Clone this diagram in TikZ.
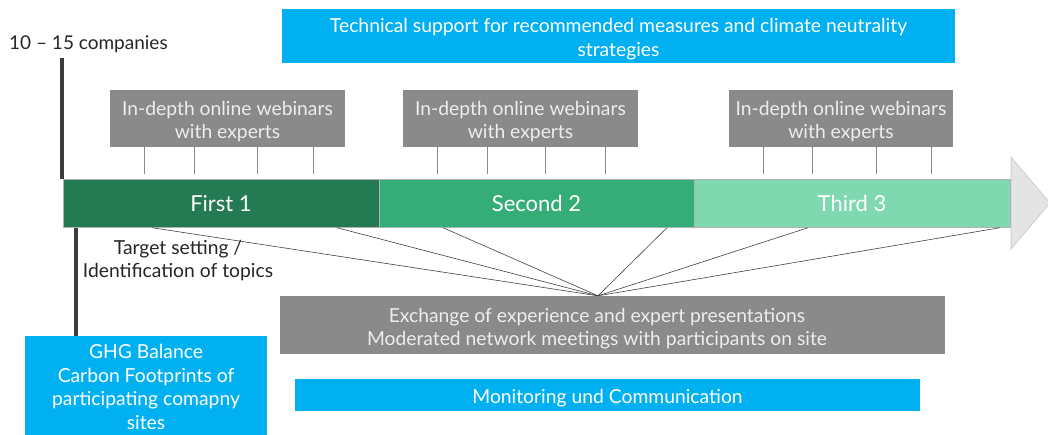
\documentclass[tikz,border=0pt]{standalone}
\usepackage{fontspec}
\setmainfont{Lato}
\usepackage{xcolor}
\usepackage{tikz}
\usetikzlibrary{positioning}

\definecolor{boxblue}{RGB}{0,176,240}
\definecolor{boxgray}{RGB}{138,138,138}
\definecolor{phasedark}{RGB}{36,122,82}
\definecolor{phasemid}{RGB}{52,173,120}
\definecolor{phaselight}{RGB}{128,216,176}
\definecolor{headfill}{RGB}{228,228,228}
\definecolor{headline}{RGB}{200,200,200}
\definecolor{inkdark}{RGB}{38,38,38}

\begin{document}
\begin{tikzpicture}[x=1pt, y=-1pt,
  every box/.style={inner sep=0pt},
  blue box/.style={every box, fill=boxblue},
  gray box/.style={every box, fill=boxgray},
  box text/.style={inner sep=0pt, align=center, text=white,
    font=\fontsize{19.3}{23.5}\selectfont},
  gray text/.style={box text, text=white!93!black},
  phase/.style={inner sep=0pt, minimum height=48, text=white,
    font=\fontsize{22}{26}\selectfont, draw=white!70!black, line width=0.4pt},
  stem/.style={line width=3.5pt, inkdark!90},
  tick/.style={line width=0.5pt, boxgray},
  fan/.style={line width=0.6pt, black!75}]

\useasboundingbox (0,0) rectangle (1048,434);

% arrow head behind the phase bar
\filldraw[fill=headfill, draw=headline, line width=0.6pt]
  (1011,157) -- (1050,203) -- (1011,249) -- cycle;

% the three phases
\foreach \m/\c/\w/\l [count=\i] in {221/phasedark/316/First 1,
                                   536.5/phasemid/315/Second 2,
                                   852/phaselight/316/Third 3}
  \node [phase, fill=\c, minimum width=\w] (phase-\i) at (\m,203.5) {\l};

% webinar boxes above the bar
\foreach \m/\w [count=\i] in {227.5/235, 520.5/235, 841/224} {
  \node [gray box, minimum width=\w, minimum height=57] (webinar-\i) at (\m,118.5) {};
  \node [gray text] (webinar-\i-text) at ([yshift=-3pt]webinar-\i.center)
    {In-depth online webinars\\with experts};
}

\foreach \t in {144,194,257,313}
  \draw [tick] (\t,0 |- webinar-1.south) -- ++(0,27);
\foreach \t in {437,487,545,605}
  \draw [tick] (\t,0 |- webinar-2.south) -- ++(0,27);
\foreach \t in {763,812,876,931}
  \draw [tick] (\t,0 |- webinar-3.south) -- ++(0,27);

\node [blue box, minimum width=673, minimum height=54] (support) at (618.5,36) {};
\node [box text] (support-text) at ([yshift=-3pt]support.center)
  {Technical support for recommended measures and climate neutrality\\strategies};

\node [anchor=west, inner sep=0pt, text=inkdark,
  font=\fontsize{19}{23}\selectfont] (companies) at (9,44) {10 -- 15 companies};

\node [align=center, inner sep=0pt, text=inkdark,
  font=\fontsize{19.3}{23}\selectfont] (target) at (178,261)
  {Target setting /\\Identification of topics};

\node [blue box, minimum width=242, minimum height=100] (ghg) at (146,386) {};
\node [box text] (ghg-text) at ([yshift=-1pt]ghg.center)
  {GHG Balance\\Carbon Footprints of\\participating comapny\\sites};

\node [gray box, minimum width=665, minimum height=58] (exchange) at (612.5,325) {};
\node [gray text] (exchange-text) at (597,328.5)
  {Exchange of experience and expert presentations\\
   Moderated network meetings with participants on site};

\node [blue box, minimum width=625, minimum height=32] (monitoring) at (607.5,395) {};
\node [box text] (monitoring-text) at ([yshift=-3pt]monitoring.center)
  {Monitoring und Communication};

% vertical stems
\draw [stem] (62,58) -- (62,0 |- phase-1.north);
\draw [stem] (76,0 |- phase-1.south) -- (76,0 |- ghg.north);

% fan of lines into the meetings
\coordinate (hub) at (598,0 |- exchange.north);
\foreach \x/\p in {152/1, 337/1, 443/2, 667/2, 808/3, 1000/3}
  \draw [fan] (\x,0 |- phase-\p.south) -- (hub);

\end{tikzpicture}
\end{document}
